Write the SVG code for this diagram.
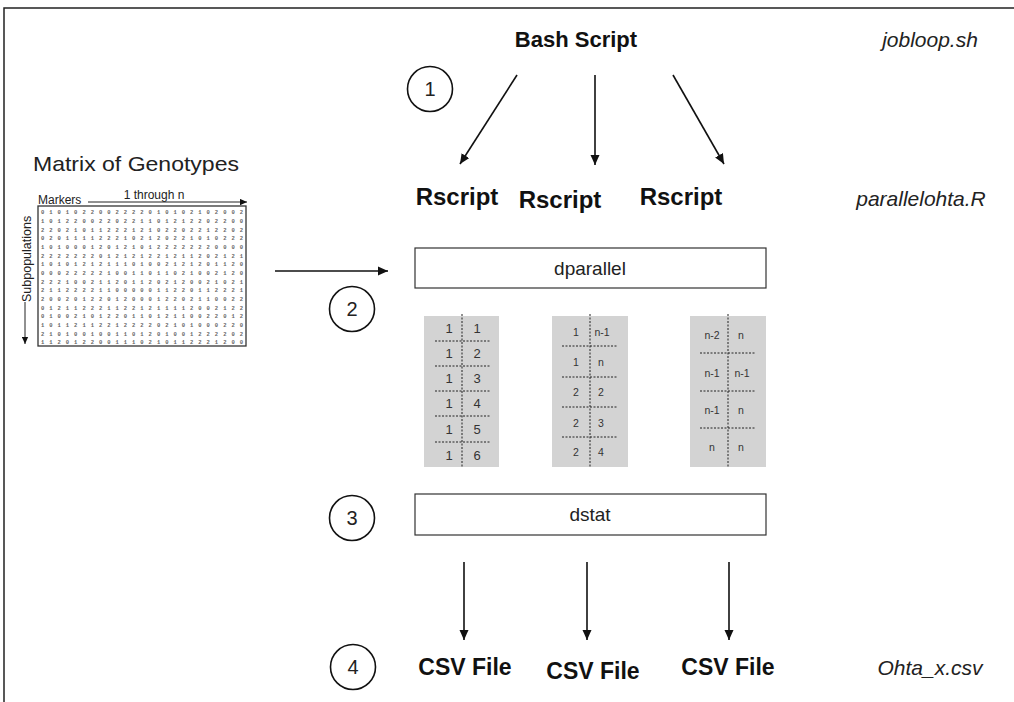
<svg xmlns="http://www.w3.org/2000/svg" width="1014" height="702" viewBox="0 0 1014 702">
<style>
.b{font-family:"Liberation Sans",Arial,sans-serif;font-weight:bold;fill:#111;text-anchor:middle}
.it{font-family:"Liberation Sans",Arial,sans-serif;font-style:italic;fill:#222;font-size:21px;text-anchor:middle}
.r{font-family:"Liberation Sans",Arial,sans-serif;fill:#222;text-anchor:middle}
.ln{stroke:#111;stroke-width:1.6;fill:none}
.box{fill:#fff;stroke:#333;stroke-width:1.2}
.circ{fill:#fff;stroke:#111;stroke-width:1.6}
.grey{fill:#d3d3d3}
.dot{stroke:#222;stroke-width:1;stroke-dasharray:2 1.5}
.num{font-family:"Liberation Sans",Arial,sans-serif;fill:#333;text-anchor:middle}
.md{font-family:"Liberation Mono",monospace;font-size:5.5px;fill:#666;font-weight:bold}
</style>
<defs>
<marker id="ah" viewBox="0 0 10 10" refX="10" refY="5" markerWidth="10" markerHeight="10" markerUnits="userSpaceOnUse" orient="auto">
<path d="M0,0.5 L10,5 L0,9.5 Z" fill="#111"/>
</marker>
<marker id="ahs" viewBox="0 0 10 10" refX="10" refY="5" markerWidth="7" markerHeight="7" markerUnits="userSpaceOnUse" orient="auto">
<path d="M0,0.5 L10,5 L0,9.5 Z" fill="#111"/>
</marker>
</defs>
<rect width="1014" height="702" fill="#fff"/>
<g id="frame"><path d="M4,702 V8 H1014" stroke="#222" stroke-width="1.5" fill="none"/></g>

<g id="bash"><text class="b" x="576" y="47" font-size="22">Bash Script</text></g>
<g id="label-jobloop"><text class="it" x="930" y="47">jobloop.sh</text></g>
<g id="label-parallelohta"><text class="it" x="921" y="206">parallelohta.R</text></g>
<g id="label-ohta"><text class="it" x="930" y="675">Ohta_x.csv</text></g>

<g id="step1"><circle class="circ" cx="430" cy="89" r="22.5"/><text class="r" x="430" y="96" font-size="20">1</text></g>
<g id="step2"><circle class="circ" cx="352" cy="309" r="22.5"/><text class="r" x="352" y="316" font-size="20">2</text></g>
<g id="step3"><circle class="circ" cx="352" cy="518" r="22.5"/><text class="r" x="352" y="525" font-size="20">3</text></g>
<g id="step4"><circle class="circ" cx="353" cy="667" r="22.5"/><text class="r" x="353" y="674" font-size="20">4</text></g>

<g id="rscript1"><text class="b" x="457" y="205" font-size="24">Rscript</text></g>
<g id="rscript2"><text class="b" x="560" y="208" font-size="24">Rscript</text></g>
<g id="rscript3"><text class="b" x="681" y="205" font-size="24">Rscript</text></g>

<g id="dparallel"><rect class="box" x="415" y="248" width="351" height="40"/><text class="r" x="590" y="275" font-size="19" fill="#333">dparallel</text></g>
<g id="dstat"><rect class="box" x="415" y="494" width="351" height="41"/><text class="r" x="590" y="521" font-size="19" fill="#333">dstat</text></g>

<g id="csv1"><text class="b" x="465" y="675" font-size="23">CSV File</text></g>
<g id="csv2"><text class="b" x="593" y="679" font-size="23">CSV File</text></g>
<g id="csv3"><text class="b" x="728" y="675" font-size="23">CSV File</text></g>

<g id="table1">
<rect class="grey" x="424" y="316" width="75" height="151"/>
<line class="dot" x1="462" y1="314" x2="462" y2="467"/>
<line class="dot" x1="435" y1="341" x2="490" y2="341"/>
<line class="dot" x1="435" y1="366" x2="490" y2="366"/>
<line class="dot" x1="435" y1="391" x2="490" y2="391"/>
<line class="dot" x1="435" y1="416" x2="490" y2="416"/>
<line class="dot" x1="435" y1="442" x2="490" y2="442"/>
<g class="num" font-size="13">
<text x="449" y="333">1</text><text x="477" y="333">1</text>
<text x="449" y="358">1</text><text x="477" y="358">2</text>
<text x="449" y="383">1</text><text x="477" y="383">3</text>
<text x="449" y="408">1</text><text x="477" y="408">4</text>
<text x="449" y="434">1</text><text x="477" y="434">5</text>
<text x="449" y="460">1</text><text x="477" y="460">6</text>
</g>
</g>

<g id="table2">
<rect class="grey" x="552" y="316" width="76" height="151"/>
<line class="dot" x1="590" y1="314" x2="590" y2="467"/>
<line class="dot" x1="562" y1="346" x2="617" y2="346"/>
<line class="dot" x1="562" y1="377" x2="617" y2="377"/>
<line class="dot" x1="562" y1="407" x2="617" y2="407"/>
<line class="dot" x1="562" y1="437" x2="617" y2="437"/>
<g class="num" font-size="10.5">
<text x="576" y="336">1</text><text x="602" y="336">n-1</text>
<text x="576" y="366">1</text><text x="601" y="366">n</text>
<text x="576" y="396">2</text><text x="601" y="396">2</text>
<text x="576" y="427">2</text><text x="601" y="427">3</text>
<text x="576" y="456">2</text><text x="601" y="456">4</text>
</g>
</g>

<g id="table3">
<rect class="grey" x="690" y="316" width="76" height="151"/>
<line class="dot" x1="728" y1="314" x2="728" y2="467"/>
<line class="dot" x1="700" y1="353" x2="755" y2="353"/>
<line class="dot" x1="700" y1="391" x2="755" y2="391"/>
<line class="dot" x1="700" y1="428" x2="755" y2="428"/>
<g class="num" font-size="10.5">
<text x="712" y="339">n-2</text><text x="741" y="339">n</text>
<text x="712" y="377">n-1</text><text x="742" y="377">n-1</text>
<text x="712" y="414">n-1</text><text x="741" y="414">n</text>
<text x="712" y="451">n</text><text x="741" y="451">n</text>
</g>
</g>

<g id="matrix">
<text x="33" y="171" font-family="Liberation Sans, Arial, sans-serif" font-size="21" fill="#222" textLength="206" lengthAdjust="spacingAndGlyphs">Matrix of Genotypes</text>
<rect x="38" y="206" width="208" height="140" fill="#fff" stroke="#333" stroke-width="1.3"/>
<text x="38" y="204" font-family="Liberation Sans, Arial, sans-serif" font-size="12" fill="#222">Markers</text>
<text x="154" y="199" font-family="Liberation Sans, Arial, sans-serif" font-size="12" fill="#222" text-anchor="middle">1 through n</text>
<line x1="88" y1="202" x2="247" y2="202" stroke="#222" stroke-width="1" marker-end="url(#ahs)"/>
<text transform="translate(31,302) rotate(-90)" font-family="Liberation Sans, Arial, sans-serif" font-size="12.5" fill="#222">Subpopulations</text>
<line x1="25" y1="302" x2="25" y2="344" stroke="#222" stroke-width="1" marker-end="url(#ahs)"/>
<g class="md">
<text x="41" y="214" textLength="202" lengthAdjust="spacing">0 1 0 1 0 2 2 0 0 2 2 2 2 0 1 0 1 0 2 1 0 2 0 0 2</text>
<text x="41" y="223" textLength="202" lengthAdjust="spacing">1 0 1 2 2 0 0 2 2 0 2 2 1 1 0 1 2 1 2 2 0 2 2 0 0</text>
<text x="41" y="231.5" textLength="202" lengthAdjust="spacing">2 2 0 2 1 0 1 1 2 2 2 1 2 1 0 2 2 0 2 2 1 2 2 0 2</text>
<text x="41" y="240" textLength="202" lengthAdjust="spacing">0 2 0 1 1 1 1 2 2 2 1 0 2 1 2 0 2 2 1 0 1 0 2 2 2</text>
<text x="41" y="249" textLength="202" lengthAdjust="spacing">1 0 1 0 0 0 1 2 0 1 2 1 0 1 2 2 2 2 2 2 2 0 0 0 0</text>
<text x="41" y="257.5" textLength="202" lengthAdjust="spacing">2 2 2 2 2 2 2 0 1 2 1 2 1 2 2 1 2 1 1 2 0 2 1 2 1</text>
<text x="41" y="266" textLength="202" lengthAdjust="spacing">1 0 1 0 1 2 1 2 1 1 1 0 1 0 0 2 1 2 1 2 0 1 1 2 0</text>
<text x="41" y="275" textLength="202" lengthAdjust="spacing">0 0 0 2 2 2 2 2 1 0 0 1 1 0 1 1 0 2 1 0 0 2 1 2 0</text>
<text x="41" y="283.5" textLength="202" lengthAdjust="spacing">2 2 2 1 0 0 2 1 1 2 0 1 1 2 0 2 1 2 0 0 2 1 0 2 1</text>
<text x="41" y="292" textLength="202" lengthAdjust="spacing">2 1 1 2 2 2 2 1 1 0 0 0 0 0 1 1 2 2 0 1 1 2 2 2 1</text>
<text x="41" y="301" textLength="202" lengthAdjust="spacing">2 0 0 2 0 1 2 2 0 1 2 0 0 0 1 2 2 0 2 1 1 0 0 2 2</text>
<text x="41" y="309.5" textLength="202" lengthAdjust="spacing">0 1 2 1 1 2 2 2 1 1 2 2 1 2 1 1 1 1 2 0 0 2 1 2 2</text>
<text x="41" y="318" textLength="202" lengthAdjust="spacing">0 1 0 0 2 1 0 1 2 2 0 1 1 0 1 2 1 1 0 0 2 2 0 1 2</text>
<text x="41" y="327" textLength="202" lengthAdjust="spacing">1 0 1 1 2 1 1 2 2 1 2 2 2 2 0 2 1 0 1 0 0 0 2 2 0</text>
<text x="41" y="335.5" textLength="202" lengthAdjust="spacing">2 1 0 1 0 0 1 0 0 1 1 0 1 2 0 1 0 0 1 2 2 2 2 0 2</text>
<text x="41" y="344" textLength="202" lengthAdjust="spacing">1 1 2 0 1 2 2 0 0 1 1 1 0 2 1 0 1 1 2 2 2 1 2 0 0</text>
</g>
</g>

<g id="connectors">
<line class="ln" x1="517" y1="75" x2="460" y2="164" marker-end="url(#ah)"/>
<line class="ln" x1="595" y1="75" x2="595" y2="165" marker-end="url(#ah)"/>
<line class="ln" x1="673" y1="75" x2="724" y2="164" marker-end="url(#ah)"/>
<line class="ln" x1="275" y1="271" x2="388" y2="271" marker-end="url(#ah)"/>
<line class="ln" x1="464" y1="562" x2="464" y2="640" marker-end="url(#ah)"/>
<line class="ln" x1="587" y1="562" x2="587" y2="640" marker-end="url(#ah)"/>
<line class="ln" x1="729" y1="562" x2="729" y2="640" marker-end="url(#ah)"/>
</g>
</svg>
